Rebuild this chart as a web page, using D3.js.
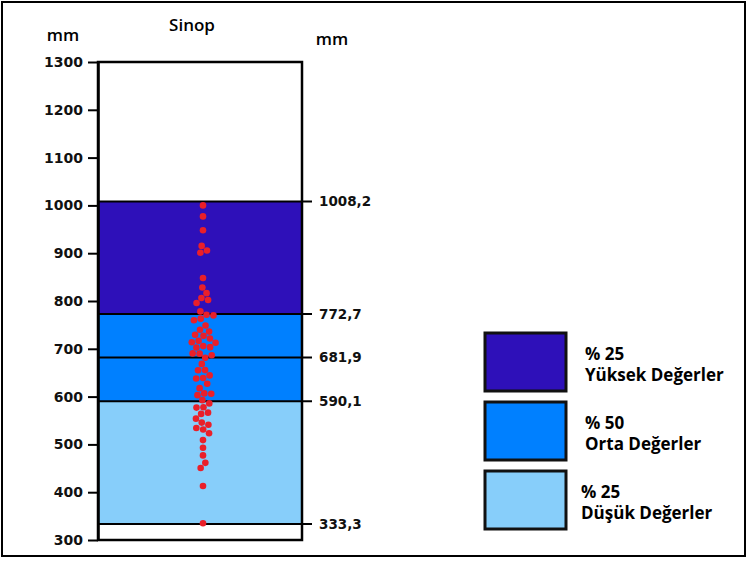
<!DOCTYPE html>
<html>
<head>
<meta charset="utf-8">
<script src="https://cdn.jsdelivr.net/npm/d3@7"></script>
<style>
  body { margin: 0; background: #fff; }
  svg { display: block; }
</style>
</head>
<body>
<div id="chart"></div>
<script>
// yearly totals (mm)
const rainfall = [
  1000, 977, 948, 914, 906, 902, 848, 828, 814, 806, 804, 797, 778, 770, 770, 764,
  760, 748, 739, 735, 728, 725, 722, 716, 714, 712, 707, 705, 701, 693, 691, 686, 683,
  668, 655, 655, 645, 638, 638, 628, 617, 606, 606, 603, 594,
  585, 577, 576, 567, 565, 554, 545, 541, 534, 532, 524,
  509, 493, 477, 461, 451, 413, 335
];
const bandValues = [1008.2, 772.7, 681.9, 590.1, 333.3];
const bandLabels = ['1008,2', '772,7', '681,9', '590,1', '333,3'];
const bands = [
  { from: 772.7, to: 1008.2, color: '#2E10B9' },
  { from: 590.1, to: 772.7, color: '#0080FF' },
  { from: 333.3, to: 590.1, color: '#87CEFA' }
];
const legendPct = ['% 25', '% 50', '% 25'];
const legendNames = ['Yüksek Değerler', 'Orta Değerler', 'Düşük Değerler'];
const yTicks = [300, 400, 500, 600, 700, 800, 900, 1000, 1100, 1200, 1300];

const W = 748, H = 562;
const box = { left: 98, right: 302, top: 62, bottom: 540 };

const svg = d3.select('#chart').append('svg')
  .attr('width', W)
  .attr('height', H);

// outer frame
svg.append('rect')
  .attr('x', 2).attr('y', 2)
  .attr('width', 743).attr('height', 554)
  .attr('fill', 'none')
  .attr('stroke', '#000')
  .attr('stroke-width', 2);

const y = d3.scaleLinear()
  .domain([300, 1300])
  .range([box.bottom, box.top]);

// coloured bands
svg.selectAll('.band')
  .data(bands)
  .enter()
  .append('rect')
  .attr('x', box.left)
  .attr('y', d => y(d.to))
  .attr('width', box.right - box.left)
  .attr('height', d => y(d.from) - y(d.to))
  .attr('fill', d => d.color);

// band boundary lines with right ticks
svg.selectAll('.bline')
  .data(bandValues)
  .enter()
  .append('line')
  .attr('x1', box.left)
  .attr('x2', box.right + 10)
  .attr('y1', d => y(d))
  .attr('y2', d => y(d))
  .attr('stroke', '#000')
  .attr('stroke-width', 2);

svg.selectAll('.blabel')
  .data(bandValues)
  .enter()
  .append('text')
  .attr('x', box.right + 17)
  .attr('y', d => y(d))
  .attr('dy', '0.35em')
  .style('font-family', 'DejaVu Sans')
  .style('font-weight', 'bold')
  .style('font-size', '13.5px')
  .attr('fill', '#111')
  .text((d, i) => bandLabels[i]);

// box outline
svg.append('rect')
  .attr('x', box.left).attr('y', box.top)
  .attr('width', box.right - box.left)
  .attr('height', box.bottom - box.top)
  .attr('fill', 'none')
  .attr('stroke', '#000')
  .attr('stroke-width', 2.5);

// left axis
const axis = svg.append('g')
  .attr('transform', `translate(${box.left},0)`)
  .call(d3.axisLeft(y).tickValues(yTicks).tickFormat(d3.format('d'))
    .tickSize(10).tickPadding(5).tickSizeOuter(0));
axis.select('.domain').attr('stroke-width', 2.5);
axis.selectAll('.tick line').attr('stroke-width', 2);
axis.selectAll('text')
  .style('font-family', 'DejaVu Sans')
  .style('font-weight', 'bold')
  .style('font-size', '14px')
  .attr('fill', '#111');

// dots, spread sideways so they do not overlap
const cx = 203, r = 3.3;
const nodes = rainfall.map(v => ({ v, x: cx, y: y(v) }));
const sim = d3.forceSimulation(nodes)
  .force('x', d3.forceX(cx).strength(0.08))
  .force('y', d3.forceY(d => y(d.v)).strength(1))
  .force('collide', d3.forceCollide(r + 0.2))
  .stop();
for (let i = 0; i < 200; i++) sim.tick();

svg.selectAll('.dot')
  .data(nodes)
  .enter()
  .append('circle')
  .attr('cx', d => d.x)
  .attr('cy', d => d.y)
  .attr('r', r)
  .attr('fill', '#EA1F29');

// titles
svg.append('text')
  .attr('x', 192).attr('y', 31)
  .attr('text-anchor', 'middle')
  .style('font-family', 'Open Sans')
  .style('font-weight', 600)
  .style('font-size', '17px')
  .text('Sinop');

svg.append('text')
  .attr('x', 63).attr('y', 41)
  .attr('text-anchor', 'middle')
  .style('font-family', 'Open Sans')
  .style('font-weight', 600)
  .style('font-size', '17px')
  .text('mm');

svg.append('text')
  .attr('x', 332).attr('y', 45)
  .attr('text-anchor', 'middle')
  .style('font-family', 'Open Sans')
  .style('font-weight', 600)
  .style('font-size', '17px')
  .text('mm');

// legend
const legend = svg.selectAll('.legend')
  .data(bands)
  .enter()
  .append('g')
  .attr('transform', (d, i) => `translate(485,${333 + i * 69})`);

legend.append('rect')
  .attr('width', 81)
  .attr('height', 58)
  .attr('fill', d => d.color)
  .attr('stroke', '#111')
  .attr('stroke-width', 3);

legend.append('text')
  .attr('x', (d, i) => i === 2 ? 96 : 100)
  .attr('y', 27)
  .style('font-family', 'Open Sans')
  .style('font-weight', 700)
  .style('font-size', '17px')
  .text((d, i) => legendPct[i]);

legend.append('text')
  .attr('x', (d, i) => i === 2 ? 96 : 100)
  .attr('y', 48)
  .style('font-family', 'Open Sans')
  .style('font-weight', 700)
  .style('font-size', '17px')
  .text((d, i) => legendNames[i]);
</script>
</body>
</html>
